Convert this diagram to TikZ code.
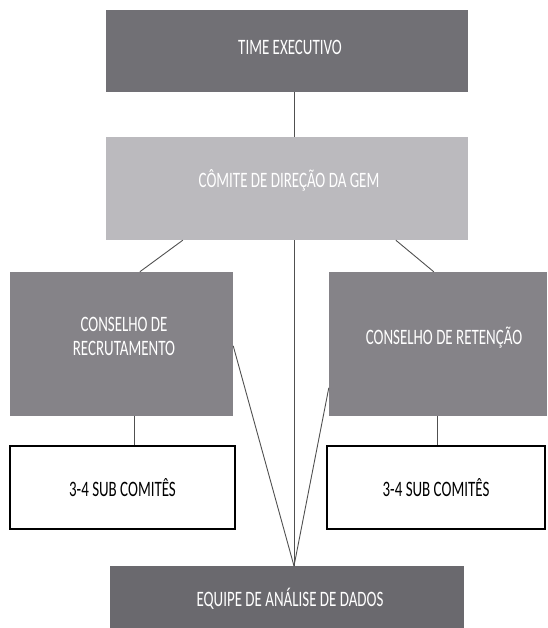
\documentclass[tikz,border=0pt]{standalone}
\usepackage{fontspec}
\setmainfont{Carlito}[FakeStretch=0.68]
\usetikzlibrary{calc}
\definecolor{darkbox}{HTML}{717075}
\definecolor{lightbox}{HTML}{BBBABE}
\definecolor{midbox}{HTML}{858388}
\definecolor{botbox}{HTML}{6A696E}
\definecolor{linkgray}{HTML}{505050}
\tikzset{
  box/.style={rectangle, inner sep=0pt},
  boxtext/.style={inner sep=0pt, align=center, text=white,
    font=\fontsize{22}{24}\selectfont},
  subbox/.style={rectangle, inner sep=0pt, align=center, draw=black, fill=white,
    line width=2.5pt, text=black, font=\fontsize{22}{24}\selectfont},
  link/.style={draw=linkgray, line width=0.9pt}
}
\begin{document}
\begin{tikzpicture}[x=1pt,y=-1pt]
\useasboundingbox (0,0) rectangle (547,628);
\node[box, fill=darkbox, minimum width=362pt, minimum height=82pt] (time) at (287,51) {};
\node[boxtext] (timet) at (290,47) {TIME EXECUTIVO};
\node[box, fill=lightbox, minimum width=362pt, minimum height=103pt] (comite) at (287,188.5) {};
\node[boxtext] (comitet) at (289,180) {CÔMITE DE DIREÇÃO DA GEM};
\node[box, fill=midbox, minimum width=223pt, minimum height=144pt] (recr) at (121.5,344) {};
\node[boxtext] (recrt) at (124,336) {CONSELHO DE\\RECRUTAMENTO};
\node[box, fill=midbox, minimum width=218pt, minimum height=144pt] (ret) at (438,344) {};
\node[boxtext] (rett) at (444,338) {CONSELHO DE RETENÇÃO};
\node[subbox, minimum width=225pt, minimum height=83pt] (sub1) at (122.5,487.5) {3-4 SUB COMITÊS};
\node[subbox, minimum width=218pt, minimum height=83pt] (sub2) at (436,487.5) {3-4 SUB COMITÊS};
\node[box, fill=botbox, minimum width=354pt, minimum height=62pt] (equipe) at (287,597) {};
\node[boxtext] (equipet) at (290,599) {EQUIPE DE ANÁLISE DE DADOS};
\coordinate (hub) at (294,566);
\draw[link] (time.south -| hub) -- (comite.north -| hub);
\draw[link] (comite.south -| hub) -- (hub);
\draw[link] ([xshift=77pt]comite.south west) -- ([xshift=130pt]recr.north west);
\draw[link] ([xshift=290pt]comite.south west) -- ([xshift=105pt]ret.north west);
\draw[link] ([yshift=-74pt]recr.north east) -- (hub);
\draw[link] ([yshift=-116pt]ret.north west) -- (hub);
\draw[link] ([xshift=125pt]recr.south west) coordinate (a) -- (a |- sub1.north);
\draw[link] ([xshift=109pt]ret.south west) coordinate (b) -- (b |- sub2.north);
\end{tikzpicture}
\end{document}
